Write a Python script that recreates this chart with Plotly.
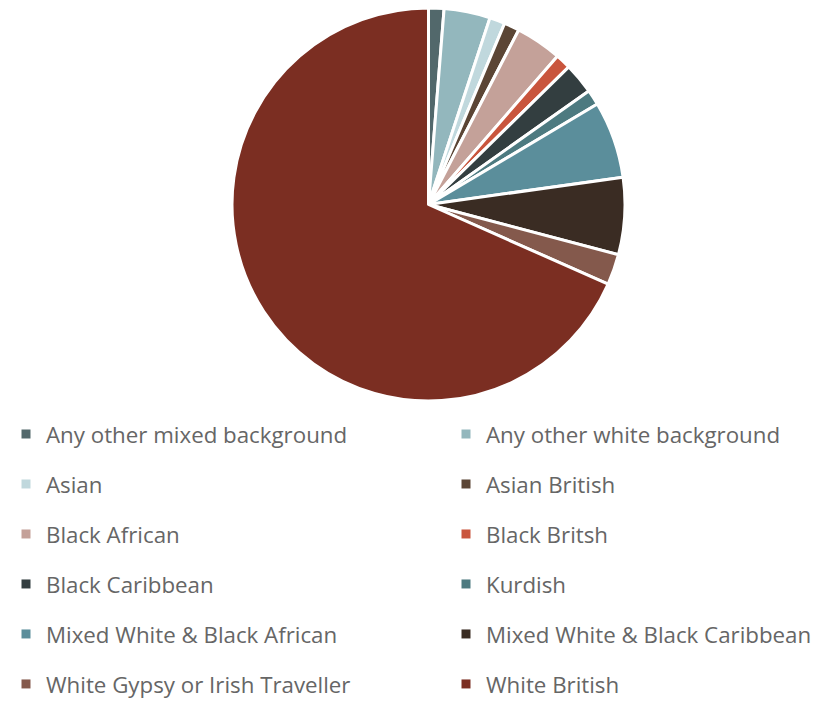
import plotly.graph_objects as go

labels = [
    "Any other mixed background",
    "Any other white background",
    "Asian",
    "Asian British",
    "Black African",
    "Black Britsh",
    "Black Caribbean",
    "Kurdish",
    "Mixed White & Black African",
    "Mixed White & Black Caribbean",
    "White Gypsy or Irish Traveller",
    "White British",
]
values = [1, 3, 1, 1, 3, 1, 2, 1, 5, 5, 2, 54]
colors = [
    "#52686b", "#93b7bd", "#c0d8dd", "#5b4535", "#c4a199", "#c9553d",
    "#333e40", "#4d7a80", "#5b8e9b", "#3a2c23", "#84594c", "#7b2e22",
]

W, H = 827, 701

fig = go.Figure()
fig.add_trace(go.Pie(
    labels=labels,
    values=values,
    marker=dict(colors=colors, line=dict(color="white", width=3)),
    sort=False,
    direction="clockwise",
    rotation=0,
    textinfo="none",
    hoverinfo="label+value+percent",
    showlegend=False,
    domain=dict(x=[428.5 / W - 0.3, 428.5 / W + 0.3], y=[1 - 401 / H, 1 - 8 / H]),
))

# legend entries (two columns), built from the same category lists
for i, (lab, col) in enumerate(zip(labels, colors)):
    fig.add_trace(go.Scatter(
        x=[None], y=[None], mode="markers", name=lab,
        marker=dict(symbol="square", size=9, color=col),
        legendgroup=lab,
        legend="legend" if i % 2 == 0 else "legend2",
        showlegend=True,
        hoverinfo="skip",
    ))

legend_common = dict(
    orientation="v",
    traceorder="grouped",
    tracegroupgap=18.0,
    itemwidth=30,
    font=dict(family="Open Sans, Arial, sans-serif", size=22.3, color="#666666"),
    bgcolor="rgba(0,0,0,0)",
    yanchor="top",
    xanchor="left",
    itemclick=False,
    itemdoubleclick=False,
)

fig.update_layout(
    width=W, height=H,
    margin=dict(l=0, r=0, t=0, b=0, autoexpand=False),
    paper_bgcolor="white",
    plot_bgcolor="white",
    xaxis=dict(visible=False),
    yaxis=dict(visible=False),
    legend=dict(x=6 / W, y=1 - 413 / H, **legend_common),
    legend2=dict(x=446 / W, y=1 - 413 / H, **legend_common),
)

fig.write_html("out.html")
